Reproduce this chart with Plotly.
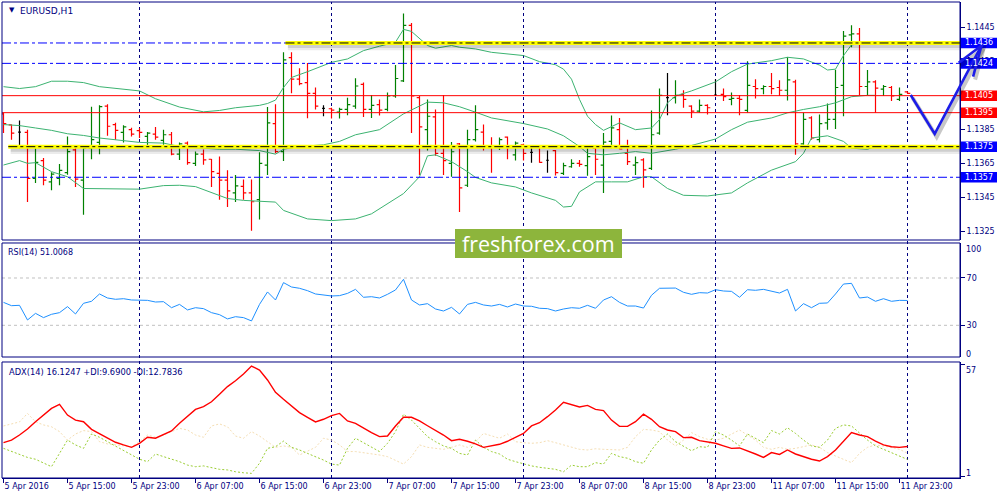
import plotly.graph_objects as go

# ---------------- data (EURUSD H1, 5 Apr 07:00 .. 12 Apr 00:00) ----------------
bars = list(range(114))

open_ = [1.13943, 1.13878, 1.13836, 1.13834, 1.13563, 1.13668, 1.13543, 1.13563, 1.13597, 1.13731,
         1.13553, 1.13743, 1.13775, 1.13989, 1.13880, 1.13834, 1.13850, 1.13844, 1.13810, 1.13824,
         1.13787, 1.13820, 1.13706, 1.13771, 1.13652, 1.13706, 1.13676, 1.13593, 1.13553, 1.13478,
         1.13517, 1.13478, 1.13438, 1.13642, 1.13886, 1.13721, 1.14274, 1.14147, 1.14127, 1.14064,
         1.13975, 1.13973, 1.13953, 1.13969, 1.13989, 1.14117, 1.13969, 1.13997, 1.13969, 1.14048,
         1.14137, 1.14464, 1.14038, 1.13850, 1.13925, 1.13711, 1.13652, 1.13767, 1.13523, 1.13791,
         1.13836, 1.13755, 1.13751, 1.13806, 1.13702, 1.13761, 1.13717, 1.13751, 1.13670, 1.13727,
         1.13593, 1.13632, 1.13652, 1.13638, 1.13741, 1.13642, 1.13781, 1.13850, 1.13711, 1.13642,
         1.13672, 1.13622, 1.13830, 1.14038, 1.14038, 1.14058, 1.13989, 1.13959, 1.13993, 1.14054,
         1.14058, 1.14028, 1.14034, 1.13963, 1.14104, 1.14092, 1.14104, 1.14098, 1.14082, 1.14131,
         1.13767, 1.13919, 1.13791, 1.13890, 1.13910, 1.14111, 1.14408, 1.14414, 1.14104, 1.14131,
         1.14088, 1.14098, 1.14028, 1.14072]
high = [1.13949, 1.13880, 1.13904, 1.13850, 1.13741, 1.13684, 1.13599, 1.13648, 1.13810, 1.13745,
        1.13751, 1.13985, 1.13993, 1.13999, 1.13890, 1.13876, 1.13862, 1.13860, 1.13836, 1.13866,
        1.13850, 1.13836, 1.13775, 1.13781, 1.13721, 1.13733, 1.13678, 1.13692, 1.13612, 1.13583,
        1.13557, 1.13557, 1.13717, 1.13983, 1.13999, 1.14305, 1.14305, 1.14212, 1.14242, 1.14098,
        1.13993, 1.13979, 1.13979, 1.14038, 1.14153, 1.14127, 1.14054, 1.14028, 1.14068, 1.14230,
        1.14533, 1.14478, 1.14048, 1.14028, 1.13969, 1.14054, 1.13777, 1.13771, 1.13850, 1.13993,
        1.13880, 1.13806, 1.13804, 1.13810, 1.13781, 1.13767, 1.13757, 1.13757, 1.13727, 1.13731,
        1.13656, 1.13676, 1.13672, 1.13745, 1.13757, 1.13830, 1.13933, 1.13919, 1.13791, 1.13692,
        1.13682, 1.13963, 1.14092, 1.14183, 1.14141, 1.14082, 1.13993, 1.14028, 1.13999, 1.14147,
        1.14092, 1.14068, 1.14054, 1.14252, 1.14147, 1.14111, 1.14183, 1.14141, 1.14276, 1.14143,
        1.13949, 1.13929, 1.13939, 1.14004, 1.14202, 1.14430, 1.14464, 1.14448, 1.14201, 1.14141,
        1.14113, 1.14107, 1.14098, 1.14074]
low = [1.13830, 1.13791, 1.13741, 1.13424, 1.13537, 1.13523, 1.13494, 1.13523, 1.13585, 1.13513,
       1.13349, 1.13676, 1.13706, 1.13814, 1.13791, 1.13775, 1.13810, 1.13801, 1.13751, 1.13791,
       1.13761, 1.13700, 1.13672, 1.13644, 1.13636, 1.13644, 1.13513, 1.13438, 1.13395, 1.13424,
       1.13438, 1.13256, 1.13321, 1.13583, 1.13711, 1.13666, 1.14064, 1.14111, 1.13917, 1.13969,
       1.13929, 1.13915, 1.13915, 1.13935, 1.13973, 1.13925, 1.13919, 1.13933, 1.13959, 1.14038,
       1.14131, 1.13830, 1.13583, 1.13727, 1.13696, 1.13583, 1.13573, 1.13365, 1.13513, 1.13781,
       1.13727, 1.13597, 1.13731, 1.13676, 1.13668, 1.13668, 1.13656, 1.13656, 1.13597, 1.13581,
       1.13583, 1.13626, 1.13632, 1.13579, 1.13583, 1.13478, 1.13741, 1.13735, 1.13642, 1.13583,
       1.13509, 1.13613, 1.13820, 1.13935, 1.14004, 1.13979, 1.13919, 1.13949, 1.13939, 1.14048,
       1.14018, 1.13993, 1.13935, 1.13949, 1.14034, 1.14058, 1.14058, 1.14048, 1.14022, 1.13702,
       1.13761, 1.13791, 1.13775, 1.13850, 1.13854, 1.13929, 1.14335, 1.14052, 1.14054, 1.13949,
       1.14048, 1.14018, 1.14018, 1.14060]
close = [1.13886, 1.13830, 1.13836, 1.13563, 1.13658, 1.13553, 1.13589, 1.13610, 1.13721, 1.13559,
         1.13743, 1.13791, 1.13985, 1.13870, 1.13846, 1.13866, 1.13824, 1.13834, 1.13830, 1.13806,
         1.13820, 1.13706, 1.13767, 1.13656, 1.13706, 1.13672, 1.13603, 1.13553, 1.13490, 1.13519,
         1.13478, 1.13426, 1.13652, 1.13890, 1.13721, 1.14260, 1.14147, 1.14121, 1.14064, 1.13989,
         1.13975, 1.13965, 1.13969, 1.13997, 1.14107, 1.13969, 1.13993, 1.13965, 1.14048, 1.14151,
         1.14464, 1.14048, 1.13866, 1.13929, 1.13711, 1.13668, 1.13720, 1.13508, 1.13791, 1.13850,
         1.13751, 1.13747, 1.13791, 1.13751, 1.13771, 1.13711, 1.13717, 1.13658, 1.13670, 1.13597,
         1.13638, 1.13652, 1.13646, 1.13692, 1.13676, 1.13777, 1.13860, 1.13737, 1.13662, 1.13656,
         1.13613, 1.13820, 1.14052, 1.14038, 1.14052, 1.14028, 1.13959, 1.13993, 1.13979, 1.14054,
         1.14044, 1.14034, 1.14028, 1.14111, 1.14092, 1.14104, 1.14092, 1.14082, 1.14143, 1.13767,
         1.13910, 1.13801, 1.13886, 1.13910, 1.14098, 1.14400, 1.14414, 1.14104, 1.14131, 1.14094,
         1.14104, 1.14048, 1.14058, 1.14064]

# Bollinger bands (bar index, price)
bb_upper_bar = [0, 2, 4, 6, 8, 10, 12, 14, 17, 19, 22, 25, 27, 29, 32, 33, 34, 35, 36, 38,
                40, 41, 43, 45, 47, 49, 50, 51, 53, 54, 56, 57, 59, 61, 65, 67, 69, 70, 71, 72,
                73, 74, 75, 76, 77, 79, 81, 82, 83, 84, 86, 89, 91, 93, 96, 98, 100, 102, 103, 104,
                105, 106, 108, 109]
bb_upper = [1.14103, 1.14092, 1.14103, 1.14135, 1.14135, 1.14127, 1.14103, 1.14092, 1.14078, 1.14032,
            1.13983, 1.13955, 1.13963, 1.13979, 1.13993, 1.14004, 1.14024, 1.14098, 1.14157, 1.14191,
            1.14226, 1.14246, 1.14266, 1.14315, 1.14341, 1.14365, 1.14440, 1.14428, 1.14345, 1.14329,
            1.14345, 1.14335, 1.14325, 1.14305, 1.14286, 1.14250, 1.14232, 1.14206, 1.14147, 1.14028,
            1.13929, 1.13880, 1.13846, 1.13870, 1.13890, 1.13850, 1.13860, 1.13909, 1.14008, 1.14048,
            1.14078, 1.14131, 1.14191, 1.14236, 1.14256, 1.14276, 1.14266, 1.14230, 1.14201, 1.14206,
            1.14286, 1.14349, 1.14359, 1.14355]
bb_middle_bar = [0, 2, 4, 6, 8, 10, 12, 15, 17, 20, 22, 25, 27, 29, 32, 34, 35, 37, 40, 42,
                 44, 47, 48, 50, 52, 53, 55, 57, 59, 61, 65, 68, 70, 72, 73, 75, 77, 79, 81, 84,
                 86, 89, 91, 93, 96, 98, 100, 102, 104, 106, 108, 109]
bb_middle = [1.13880, 1.13874, 1.13860, 1.13846, 1.13826, 1.13816, 1.13801, 1.13787, 1.13775, 1.13771,
             1.13751, 1.13741, 1.13735, 1.13735, 1.13727, 1.13706, 1.13735, 1.13751, 1.13761, 1.13781,
             1.13820, 1.13850, 1.13880, 1.13943, 1.13989, 1.14012, 1.14008, 1.13985, 1.13953, 1.13919,
             1.13886, 1.13854, 1.13814, 1.13751, 1.13711, 1.13702, 1.13711, 1.13721, 1.13711, 1.13735,
             1.13757, 1.13795, 1.13850, 1.13894, 1.13919, 1.13949, 1.13969, 1.13985, 1.14008, 1.14044,
             1.14052, 1.14052]
bb_lower_bar = [0, 2, 3, 4, 6, 8, 10, 12, 15, 17, 20, 22, 24, 26, 28, 30, 32, 34, 35, 38,
                41, 44, 46, 48, 50, 52, 53, 54, 56, 58, 59, 61, 64, 66, 69, 70, 71, 72, 74, 76,
                78, 80, 81, 83, 85, 88, 91, 93, 96, 99, 100, 101, 103, 105, 106, 108, 109]
bb_lower = [1.13642, 1.13668, 1.13652, 1.13656, 1.13603, 1.13573, 1.13504, 1.13504, 1.13504, 1.13500,
            1.13521, 1.13523, 1.13515, 1.13480, 1.13445, 1.13434, 1.13430, 1.13424, 1.13375, 1.13325,
            1.13315, 1.13325, 1.13355, 1.13414, 1.13474, 1.13573, 1.13696, 1.13702, 1.13662, 1.13603,
            1.13569, 1.13537, 1.13513, 1.13478, 1.13434, 1.13395, 1.13399, 1.13484, 1.13543, 1.13543,
            1.13543, 1.13573, 1.13573, 1.13504, 1.13464, 1.13460, 1.13478, 1.13537, 1.13612, 1.13662,
            1.13711, 1.13801, 1.13814, 1.13781, 1.13741, 1.13735, 1.13751]

rsi = [49.4, 46.6, 46.9, 34.5, 40.1, 36.5, 39.3, 40.7, 45.8, 39.6,
       48.6, 50.3, 56.5, 53.1, 52.0, 52.5, 51.4, 51.1, 51.1, 49.7,
       50.0, 44.9, 47.7, 43.0, 44.9, 44.1, 40.7, 39.0, 35.4, 37.3,
       36.5, 33.7, 47.7, 58.2, 51.4, 66.1, 62.4, 61.3, 59.3, 56.5,
       55.6, 54.8, 55.1, 57.0, 60.4, 53.7, 54.2, 53.1, 56.2, 59.9,
       68.9, 51.4, 47.2, 48.3, 43.8, 42.1, 45.2, 39.6, 47.7, 49.4,
       47.2, 46.3, 47.7, 45.5, 48.0, 46.3, 46.1, 44.4, 44.1, 42.1,
       43.8, 44.9, 44.4, 46.9, 44.4, 51.4, 54.2, 49.4, 46.3, 46.3,
       44.6, 55.4, 61.3, 61.3, 61.5, 57.9, 56.2, 57.6, 57.3, 60.1,
       59.0, 58.7, 53.7, 60.1, 59.6, 60.4, 59.0, 57.3, 60.4, 42.1,
       48.3, 44.9, 48.6, 48.9, 56.5, 64.9, 65.5, 53.1, 53.9, 50.3,
       52.5, 50.3, 51.1, 51.0068]

adx = [18.0, 19.3, 21.8, 24.8, 28.4, 31.7, 35.0, 37.0, 31.7, 29.2,
       28.4, 24.6, 22.6, 20.5, 18.2, 16.9, 15.7, 17.7, 20.7, 20.2,
       21.8, 23.8, 27.6, 31.2, 34.5, 35.9, 38.3, 42.0, 45.8, 48.7,
       52.0, 56.0, 54.0, 49.1, 43.0, 39.5, 36.2, 32.9, 30.6, 28.3,
       29.6, 31.4, 32.5, 28.8, 27.6, 25.1, 23.0, 21.0, 21.3, 26.3,
       30.6, 30.6, 28.8, 26.4, 24.3, 21.8, 19.0, 19.7, 18.7, 17.4,
       15.7, 16.4, 17.2, 18.7, 20.7, 22.6, 26.3, 27.9, 30.9, 34.2,
       38.0, 37.0, 35.7, 36.5, 34.5, 33.9, 29.2, 26.1, 26.1, 28.4,
       32.1, 29.6, 25.9, 24.3, 23.5, 20.5, 20.7, 19.0, 18.3, 17.7,
       16.4, 15.2, 15.4, 14.0, 12.4, 10.7, 13.1, 12.2, 14.4, 12.4,
       11.1, 9.8, 8.9, 11.1, 14.4, 18.8, 23.0, 21.8, 21.0, 18.8,
       16.9, 16.0, 15.7, 16.1247]
plus_di = [15.2, 13.6, 11.9, 10.7, 9.8, 8.1, 6.1, 12.7, 19.3, 16.9,
           15.2, 22.3, 20.7, 18.5, 16.4, 14.0, 11.9, 9.8, 8.6, 12.4,
           11.1, 9.9, 8.6, 6.9, 6.1, 6.5, 5.8, 4.8, 4.5, 3.6,
           3.1, 2.8, 7.8, 15.2, 16.0, 18.8, 15.7, 14.4, 12.7, 11.1,
           9.4, 7.4, 6.9, 15.2, 20.2, 18.0, 15.7, 13.6, 17.7, 23.5,
           32.1, 29.2, 25.1, 21.0, 18.5, 16.4, 15.2, 12.7, 11.9, 19.3,
           15.7, 13.6, 12.4, 9.8, 8.6, 7.4, 6.5, 5.8, 5.3, 4.8,
           3.6, 6.9, 6.1, 6.1, 8.1, 7.4, 12.7, 11.1, 10.3, 8.6,
           7.8, 14.4, 19.3, 22.3, 18.5, 16.4, 14.0, 16.0, 15.7, 23.5,
           21.8, 19.3, 16.4, 22.3, 20.2, 18.0, 24.0, 22.3, 25.4, 22.6,
           19.3, 16.4, 15.7, 19.3, 25.1, 26.8, 26.3, 22.6, 19.3, 16.4,
           14.7, 13.1, 11.1, 9.69]
minus_di = [26.3, 27.3, 28.3, 32.5, 28.4, 26.8, 25.9, 23.5, 19.3, 22.3,
            24.0, 23.5, 18.5, 17.4, 16.9, 16.4, 16.0, 18.5, 21.8, 20.7,
            21.8, 23.5, 25.1, 24.3, 21.8, 20.7, 26.3, 27.3, 25.9, 21.3,
            20.2, 23.5, 21.3, 18.5, 15.7, 16.4, 15.7, 11.9, 13.6, 15.7,
            20.2, 19.3, 16.9, 13.6, 13.6, 13.1, 12.4, 11.9, 11.1, 9.4,
            7.4, 11.1, 16.9, 15.7, 15.2, 14.7, 15.7, 16.9, 15.7, 18.5,
            22.6, 21.3, 20.2, 22.3, 18.5, 18.0, 17.7, 18.0, 19.0, 18.0,
            16.9, 15.7, 14.7, 14.4, 15.0, 14.7, 14.7, 14.4, 15.7, 21.0,
            24.6, 24.3, 23.5, 19.3, 16.4, 19.3, 23.0, 21.0, 19.7, 19.3,
            20.2, 22.3, 24.3, 21.8, 19.3, 15.7, 14.7, 15.7, 14.7, 15.2,
            16.0, 16.9, 15.7, 13.1, 11.4, 9.8, 8.1, 12.7, 15.7, 16.9,
            16.4, 15.7, 14.7, 12.7836]

time_tick_bars = [0, 8, 16, 24, 32, 40, 48, 56, 64, 72, 80, 88, 96, 104, 112]
time_tick_labels = ["5 Apr 2016", "5 Apr 15:00", "5 Apr 23:00", "6 Apr 07:00", "6 Apr 15:00",
                    "6 Apr 23:00", "7 Apr 07:00", "7 Apr 15:00", "7 Apr 23:00", "8 Apr 07:00",
                    "8 Apr 15:00", "8 Apr 23:00", "11 Apr 07:00", "11 Apr 15:00", "11 Apr 23:00"]
day_separator_bars = [17, 41, 65, 89, 113]
price_ticks = [1.1325, 1.1345, 1.1365, 1.1385, 1.1405, 1.1425, 1.1445]
rsi_ticks = [30, 70]
adx_ticks = [1, 57]

blue_levels = [1.1436, 1.1424, 1.1357]
red_levels = [1.1405, 1.1395]
highlight_levels = [1.1436, 1.1375]
highlight_start_bar = [35.25, 0.6]
label_levels = [1.1436, 1.1424, 1.1405, 1.1395, 1.1375, 1.1357]
label_kinds = ["blue", "blue", "red", "red", "blue", "blue"]

forecast_bar = [113.4, 116.4, 122.25]
forecast_price = [1.14054, 1.13825, 1.14345]
arrowhead_bar = [119.4, 121.2]
arrowhead_price = [1.14244, 1.14162]

# ---------------- styling / geometry ----------------
NAVY = "#000080"
FONT = "DejaVu Sans"
X_RANGE = [-0.1875, 119.5625]
MAIN_RANGE = [1.13201, 1.14601]
RSI_RANGE = [3.2, 99.6]
ADX_RANGE = [0.5, 58.0]
MAIN_DOM = [0.5, 1.0]
RSI_DOM = [0.2542, 0.4937]
ADX_DOM = [0.0, 0.2437]
PLOT_W, PLOT_H, LEFT, BOTTOM = 958.0, 476.0, 2.0, 478.0


def px_x(p):
    return (p - LEFT) / PLOT_W


def px_y(p):
    return (BOTTOM - p) / PLOT_H


def main_paper(i, price):
    xp = (i - X_RANGE[0]) / (X_RANGE[1] - X_RANGE[0])
    yp = MAIN_DOM[0] + (MAIN_DOM[1] - MAIN_DOM[0]) * (price - MAIN_RANGE[0]) / (MAIN_RANGE[1] - MAIN_RANGE[0])
    return xp, yp


fig = go.Figure()

# Bollinger bands
for bx, by in [(bb_upper_bar, bb_upper), (bb_middle_bar, bb_middle), (bb_lower_bar, bb_lower)]:
    fig.add_trace(go.Scatter(x=bx, y=by, mode="lines", line=dict(color="#3CB371", width=1),
                             xaxis="x2", yaxis="y", hoverinfo="skip", showlegend=False))

# OHLC bars: up (green), down (red), doji (black)
groups = [
    ("#008000", [k for k in bars if close[k] > open_[k]], 0.35),
    ("#FF0000", [k for k in bars if close[k] < open_[k]], 0.35),
    ("#000000", [k for k in bars if close[k] == open_[k]], 0.175),
]
for color, idx, tw in groups:
    fig.add_trace(go.Ohlc(
        x=[bars[k] for k in idx], open=[open_[k] for k in idx], high=[high[k] for k in idx],
        low=[low[k] for k in idx], close=[close[k] for k in idx],
        increasing=dict(line=dict(color=color, width=1.2)),
        decreasing=dict(line=dict(color=color, width=1.2)),
        tickwidth=tw, xaxis="x2", yaxis="y", hoverinfo="skip", showlegend=False))

# RSI
fig.add_trace(go.Scatter(x=bars, y=rsi, mode="lines", line=dict(color="#1E90FF", width=1),
                         xaxis="x3", yaxis="y2", hoverinfo="skip", showlegend=False))

# ADX
fig.add_trace(go.Scatter(x=bars, y=minus_di, mode="lines", line=dict(color="#F5DEB3", width=1, dash="2px,2px"),
                         xaxis="x", yaxis="y3", hoverinfo="skip", showlegend=False))
fig.add_trace(go.Scatter(x=bars, y=plus_di, mode="lines", line=dict(color="#9ACD32", width=1, dash="2px,2px"),
                         xaxis="x", yaxis="y3", hoverinfo="skip", showlegend=False))
fig.add_trace(go.Scatter(x=bars, y=adx, mode="lines", line=dict(color="#FF0000", width=1.4),
                         xaxis="x", yaxis="y3", hoverinfo="skip", showlegend=False))

shapes = []
# day separators
for b in day_separator_bars:
    shapes.append(dict(type="line", xref="x", yref="paper", x0=b, x1=b, y0=0, y1=1,
                       line=dict(color=NAVY, width=1, dash="3px,3px"), layer="below"))
# horizontal levels
for lv in blue_levels:
    shapes.append(dict(type="line", xref="paper", yref="y", x0=0, x1=1, y0=lv, y1=lv,
                       line=dict(color="#0000FF", width=1, dash="9px,3px,3px,3px"), layer="above"))
for lv in red_levels:
    shapes.append(dict(type="line", xref="paper", yref="y", x0=0, x1=1, y0=lv, y1=lv,
                       line=dict(color="#FF0000", width=1), layer="above"))
for lv, start in zip(highlight_levels, highlight_start_bar):
    for off, w, col in [(-0.00016, 9, "rgba(0,0,0,0.08)"), (-0.00012, 6, "rgba(0,0,0,0.12)")]:
        shapes.append(dict(type="line", xref="x2", yref="y", x0=start + 0.3, x1=X_RANGE[1], y0=lv + off, y1=lv + off,
                           line=dict(color=col, width=w), layer="above"))
    shapes.append(dict(type="line", xref="x2", yref="y", x0=start, x1=X_RANGE[1], y0=lv, y1=lv,
                       line=dict(color="#FFFF00", width=4), layer="above"))
    shapes.append(dict(type="line", xref="x2", yref="y", x0=start, x1=X_RANGE[1], y0=lv, y1=lv,
                       line=dict(color="#000000", width=1, dash="9px,3px,3px,3px"), layer="above"))
# RSI levels
for lv in rsi_ticks:
    shapes.append(dict(type="line", xref="paper", yref="y2", x0=0, x1=1, y0=lv, y1=lv,
                       line=dict(color="#C0C0C0", width=1, dash="3px,3px"), layer="below"))
# panel borders
for dom in (MAIN_DOM, RSI_DOM, ADX_DOM):
    shapes.append(dict(type="rect", xref="paper", yref="paper", x0=0, x1=1, y0=dom[0], y1=dom[1],
                       line=dict(color=NAVY, width=1), fillcolor="rgba(0,0,0,0)", layer="above"))
# level label boxes
for lv, kind in zip(label_levels, label_kinds):
    shapes.append(dict(type="rect", xref="paper", yref="y", x0=px_x(961), x1=px_x(997),
                       y0=lv - 0.00031, y1=lv + 0.00031, line=dict(width=0),
                       fillcolor="#0000FF" if kind == "blue" else "#FF0000", layer="above"))
# watermark box
shapes.append(dict(type="rect", xref="paper", yref="paper", x0=px_x(455), x1=px_x(622),
                   y0=px_y(258), y1=px_y(229), line=dict(width=0), fillcolor="#8DB53C", layer="above"))

# hand-drawn forecast arrow
pts = [main_paper(b, p) for b, p in zip(forecast_bar, forecast_price)]
tip = pts[-1]
heads = [main_paper(b, p) for b, p in zip(arrowhead_bar, arrowhead_price)]


def path_of(points, dx=0.0, dy=0.0):
    return "M " + " L ".join(f"{x + dx:.5f},{y + dy:.5f}" for x, y in points)


sdx, sdy = 2 / PLOT_W, -3 / PLOT_H
for dx, dy, col, w in [(sdx, sdy, "rgba(0,0,0,0.22)", 4), (0, 0, "#1C1CE8", 2.6)]:
    shapes.append(dict(type="path", xref="paper", yref="paper", path=path_of(pts, dx, dy),
                       line=dict(color=col, width=w), layer="above"))
    shapes.append(dict(type="path", xref="paper", yref="paper",
                       path=path_of([heads[0], tip, heads[1]], dx, dy),
                       line=dict(color=col, width=w), layer="above"))

annotations = []


def note(text, x, y, size=8, color=NAVY, xanchor="left", family=FONT, xref="paper", yref="paper"):
    annotations.append(dict(text=text, x=x, y=y, xref=xref, yref=yref, xanchor=xanchor, yanchor="middle",
                            showarrow=False, font=dict(family=family, size=size, color=color)))


note("▼", px_x(7), px_y(10), size=7)
note("EURUSD,H1", px_x(18), px_y(10.5), size=9)
note(f"RSI(14) {rsi[-1]:.4f}", px_x(6), px_y(252))
note(f"ADX(14) {adx[-1]:.4f} +DI:{plus_di[-1]:.4f} -DI:{minus_di[-1]:.4f}", px_x(7), px_y(372), size=8.3)
note("100", px_x(964), px_y(250))
note("0", px_x(964), px_y(354))
note("57", px_x(964), px_y(370))
note("1", px_x(964), px_y(473))
for lv in label_levels:
    note(f"{lv:.4f}", px_x(979), lv, color="#FFFFFF", xanchor="center", yref="y")
note("freshforex.com", px_x(538.5), px_y(243), size=21.5, color="#FFFFFF", xanchor="center", family="Open Sans")

axis_font = dict(family=FONT, size=8, color=NAVY)
common_y = dict(side="right", ticks="outside", ticklen=4, tickcolor=NAVY, tickfont=axis_font,
                showline=True, linecolor=NAVY, linewidth=1, showgrid=False, zeroline=False,
                automargin=False, fixedrange=True)

fig.update_layout(
    width=1000, height=500, margin=dict(l=2, r=40, t=2, b=22),
    paper_bgcolor="white", plot_bgcolor="white", showlegend=False,
    xaxis=dict(domain=[0, 1], range=X_RANGE, anchor="y3", tickmode="array", tickvals=time_tick_bars,
               ticktext=time_tick_labels, ticks="outside", ticklen=4, tickcolor=NAVY, tickfont=axis_font,
               ticklabelposition="outside right", showline=True, linecolor=NAVY, showgrid=False,
               zeroline=False, automargin=False, fixedrange=True, rangeslider=dict(visible=False)),
    xaxis2=dict(domain=[0, 1], range=X_RANGE, anchor="y", matches="x", visible=False,
                rangeslider=dict(visible=False)),
    xaxis3=dict(domain=[0, 1], range=X_RANGE, anchor="y2", matches="x", visible=False),
    yaxis=dict(domain=MAIN_DOM, range=MAIN_RANGE, anchor="x2", tickmode="array", tickvals=price_ticks,
               tickformat=".4f", **common_y),
    yaxis2=dict(domain=RSI_DOM, range=RSI_RANGE, anchor="x3", tickmode="array", tickvals=rsi_ticks, **common_y),
    yaxis3=dict(domain=ADX_DOM, range=ADX_RANGE, anchor="x", tickmode="array", tickvals=adx_ticks,
                showticklabels=False, **common_y),
    shapes=shapes,
    annotations=annotations,
)

fig.write_html("out.html", config={"displayModeBar": False, "staticPlot": True},
               post_script="document.body.style.margin='0px';document.body.style.overflow='hidden';")
